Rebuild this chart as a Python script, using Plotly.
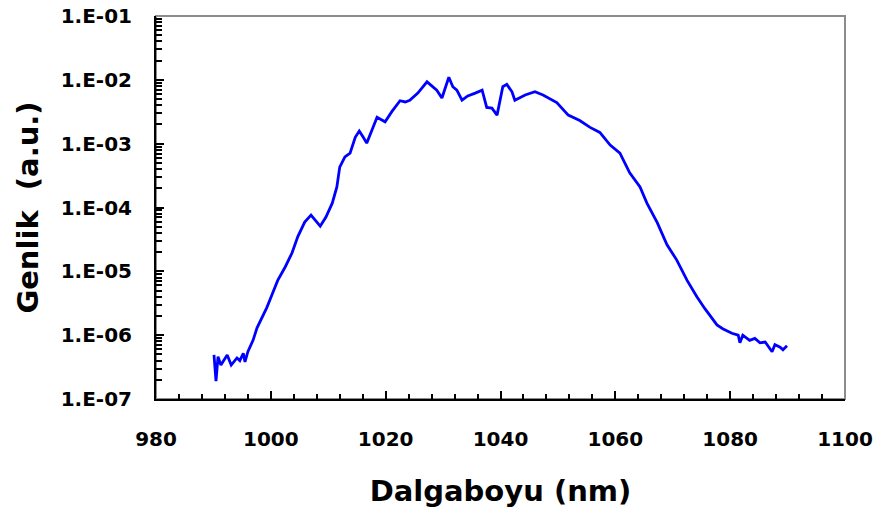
import plotly.graph_objects as go

# Spectrum: wavelength (nm) and amplitude (a.u.)
wavelength = [
    990.1, 990.45, 990.8, 991.3, 992.4, 993.1, 994.1, 994.6, 995.2, 995.5,
    996.0, 996.9, 997.6, 998.5, 999.3, 1000.2, 1001.2, 1002.5, 1003.7, 1004.7,
    1005.9, 1007.0, 1008.6, 1009.6, 1010.7, 1011.5, 1012.0, 1012.9, 1013.8, 1014.7,
    1015.4, 1016.1, 1016.7, 1017.6, 1018.5, 1019.9, 1021.1, 1022.5, 1023.4, 1024.2,
    1025.6, 1027.2, 1028.9, 1029.8, 1031.0, 1031.7, 1032.4, 1033.3, 1034.3, 1035.6,
    1036.8, 1037.6, 1038.5, 1039.4, 1040.4, 1041.1, 1042.0, 1042.5, 1044.3, 1046.0,
    1047.4, 1049.8, 1051.8, 1053.8, 1055.6, 1057.3, 1059.1, 1060.8, 1062.5, 1064.3,
    1065.5, 1067.3, 1069.0, 1070.7, 1072.5, 1074.2, 1075.6, 1077.7, 1078.7, 1080.3,
    1081.4, 1081.7, 1082.2, 1083.4, 1084.3, 1085.2, 1086.1, 1087.3, 1087.8, 1088.7,
    1089.2, 1089.9,
]
amplitude = [
    4.9e-7, 1.9e-7, 4.6e-7, 3.4e-7, 4.9e-7, 3.4e-7, 4.4e-7, 4.0e-7, 5.2e-7, 3.8e-7,
    5.5e-7, 8.3e-7, 1.3e-6, 1.9e-6, 2.7e-6, 4.3e-6, 7.2e-6, 1.17e-5, 1.95e-5, 3.5e-5,
    5.9e-5, 7.6e-5, 5.1e-5, 7.1e-5, 1.17e-4, 2.1e-4, 4.3e-4, 6.2e-4, 7.1e-4, 1.26e-3,
    1.58e-3, 1.26e-3, 1.02e-3, 1.62e-3, 2.6e-3, 2.2e-3, 3.2e-3, 4.7e-3, 4.5e-3, 4.8e-3,
    6.2e-3, 9.3e-3, 6.9e-3, 5.2e-3, 1.1e-2, 7.8e-3, 6.9e-3, 4.8e-3, 5.6e-3, 6.2e-3,
    6.9e-3, 3.7e-3, 3.6e-3, 2.8e-3, 7.8e-3, 8.5e-3, 6.5e-3, 4.8e-3, 5.8e-3, 6.5e-3,
    5.8e-3, 4.4e-3, 2.8e-3, 2.3e-3, 1.8e-3, 1.5e-3, 9.5e-4, 7.1e-4, 3.5e-4, 2.1e-4,
    1.17e-4, 5.8e-5, 2.6e-5, 1.5e-5, 7.2e-6, 4.0e-6, 2.6e-6, 1.45e-6, 1.26e-6, 1.07e-6,
    1.0e-6, 7.6e-7, 1.0e-6, 8.3e-7, 8.9e-7, 7.6e-7, 7.8e-7, 5.5e-7, 7.1e-7, 6.5e-7,
    5.9e-7, 6.8e-7,
]

y_tickvals = [1e-7, 1e-6, 1e-5, 1e-4, 1e-3, 1e-2, 1e-1]
y_ticktext = ["1.E-07", "1.E-06", "1.E-05", "1.E-04", "1.E-03", "1.E-02", "1.E-01"]

# minor ticks at 2..9 within each decade
y_minor = [m * d for d in y_tickvals[:-1] for m in range(2, 10)]

font_bold = dict(family="DejaVu Sans, Arial, sans-serif", color="black", weight="bold")

fig = go.Figure()
fig.add_trace(go.Scatter(
    x=wavelength, y=amplitude, mode="lines",
    line=dict(color="#0000ff", width=2.8),
    showlegend=False, hoverinfo="skip",
))

fig.update_layout(
    width=878, height=517,
    margin=dict(l=156, r=33, t=16, b=118),
    paper_bgcolor="white", plot_bgcolor="white",
    shapes=[dict(type="rect", xref="paper", yref="paper", x0=0, y0=0, x1=1, y1=1,
                 line=dict(color="#8c8c8c", width=2), layer="below")],
)

fig.update_xaxes(
    range=[980, 1100], tickmode="linear", tick0=980, dtick=20, automargin=False,
    ticks="inside", ticklen=8, tickwidth=2, tickcolor="black",
    showline=True, linecolor="black", linewidth=2,
    showgrid=False, zeroline=False,
    tickfont=dict(size=20, **font_bold), ticklabelstandoff=21,
    minor=dict(ticks="inside", ticklen=5, tickwidth=2, tickcolor="black",
               tick0=980, dtick=4, showgrid=False),
    title=dict(text="Dalgaboyu (nm)", font=dict(size=29, **font_bold), standoff=31),
)

fig.update_yaxes(
    type="log", range=[-7, -1], automargin=False,
    tickmode="array", tickvals=y_tickvals, ticktext=y_ticktext,
    ticks="inside", ticklen=8, tickwidth=2, tickcolor="black",
    showline=True, linecolor="black", linewidth=2,
    showgrid=False, zeroline=False,
    tickfont=dict(size=20, **font_bold), ticklabelstandoff=18,
    minor=dict(tickmode="array", tickvals=y_minor, ticks="inside", ticklen=6,
               tickwidth=2, tickcolor="black", showgrid=False),
    title=dict(text="Genlik  (a.u.)", font=dict(size=29, **font_bold), standoff=14),
)

fig.write_html("out.html")
